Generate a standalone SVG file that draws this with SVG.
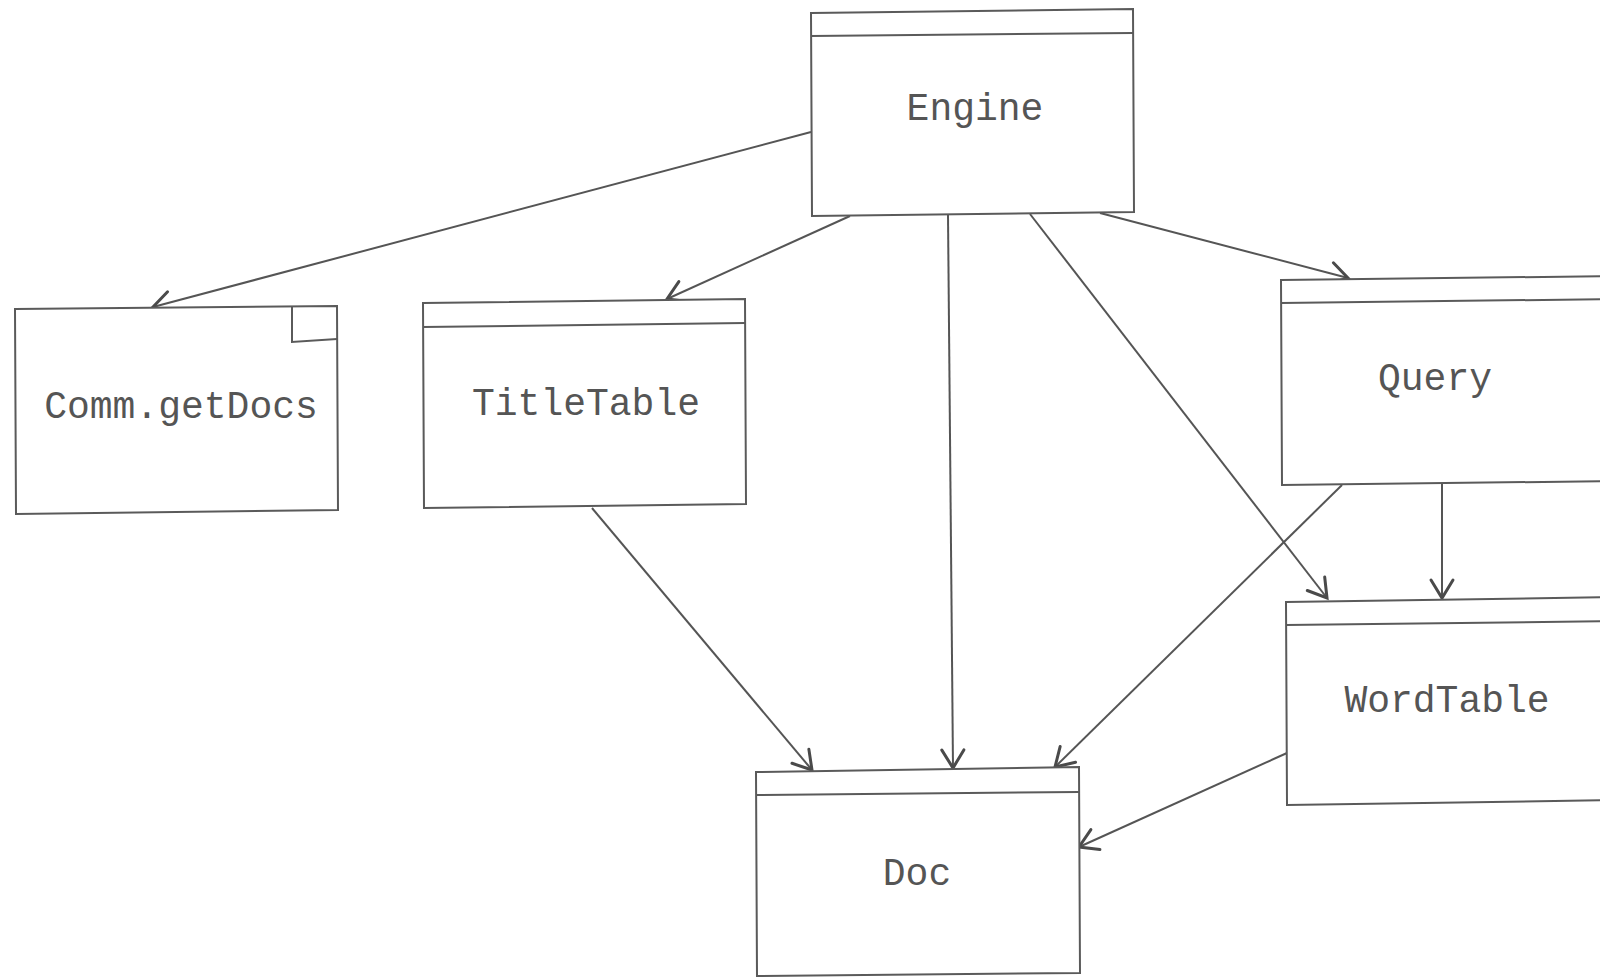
<svg xmlns="http://www.w3.org/2000/svg" width="1600" height="977" viewBox="0 0 1600 977">
  <defs>
    <style>
      .box { fill: #ffffff; stroke: #5a5a5a; stroke-width: 2; stroke-linejoin: miter; }
      .rule { fill: none; stroke: #5a5a5a; stroke-width: 2; }
      .label { font-family: "Liberation Mono", "DejaVu Sans Mono", monospace; font-size: 38px; fill: #555555; text-anchor: middle; }
      .edge { fill: none; stroke: #555555; stroke-width: 2; marker-end: url(#open-arrow); }
    </style>
    <marker id="open-arrow" markerUnits="userSpaceOnUse" markerWidth="30" markerHeight="30" viewBox="-22 -15 26 30" refX="0" refY="0" orient="auto">
      <path d="M -18 -11 L 0 0 L -18 11" fill="none" stroke="#4a4a4a" stroke-width="3" stroke-linecap="round" stroke-linejoin="miter"/>
    </marker>
  </defs>

  <rect width="1600" height="977" fill="#ffffff"/>

  <!-- dependency arrows -->
  <g id="connectors">
    <line class="edge" x1="811" y1="132" x2="153" y2="307"/>
    <line class="edge" x1="850" y1="216" x2="667" y2="299"/>
    <line class="edge" x1="948" y1="215" x2="953" y2="768"/>
    <line class="edge" x1="1030" y1="214" x2="1327" y2="598"/>
    <line class="edge" x1="1100" y1="213" x2="1348" y2="278"/>
    <line class="edge" x1="1442" y1="484" x2="1442" y2="598"/>
    <line class="edge" x1="1342" y1="485" x2="1055" y2="767"/>
    <line class="edge" x1="592" y1="508" x2="812" y2="770"/>
    <line class="edge" x1="1287" y1="753" x2="1079" y2="847"/>
  </g>

  <g id="engine">
    <polygon class="box" points="811,13 1133,9 1134,212 812,216"/>
    <line class="rule" x1="811" y1="36" x2="1133" y2="33"/>
    <text class="label" x="975" y="120">Engine</text>
  </g>

  <g id="comm-getdocs">
    <polygon class="box" points="15,309 337,306 338,510 16,514"/>
    <polyline class="rule" points="292,307 292,342 337,339"/>
    <text class="label" x="181" y="418">Comm.getDocs</text>
  </g>

  <g id="titletable">
    <polygon class="box" points="423,303 745,299 746,504 424,508"/>
    <line class="rule" x1="423" y1="327" x2="745" y2="323"/>
    <text class="label" x="586" y="415">TitleTable</text>
  </g>

  <g id="query">
    <polygon class="box" points="1281,280 1620,276 1620,481 1282,485"/>
    <line class="rule" x1="1281" y1="303" x2="1620" y2="299"/>
    <text class="label" x="1435" y="390">Query</text>
  </g>

  <g id="wordtable">
    <polygon class="box" points="1286,602 1620,597 1620,800 1287,805"/>
    <line class="rule" x1="1286" y1="625" x2="1620" y2="621"/>
    <text class="label" x="1447" y="712">WordTable</text>
  </g>

  <g id="doc">
    <polygon class="box" points="756,772 1079,767 1080,973 757,976"/>
    <line class="rule" x1="756" y1="795" x2="1079" y2="792"/>
    <text class="label" x="917" y="885">Doc</text>
  </g>
</svg>
